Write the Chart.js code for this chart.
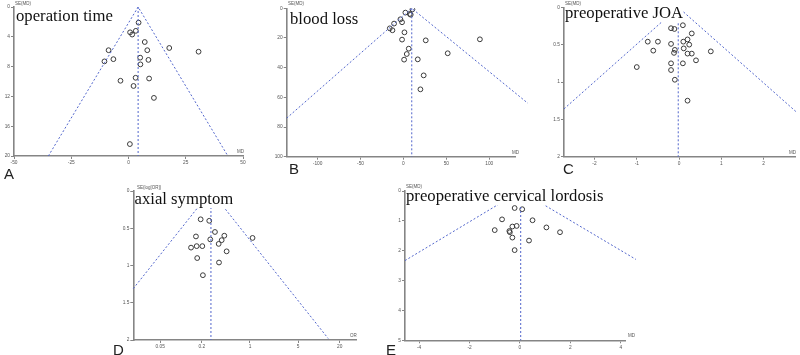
<!DOCTYPE html>
<html>
  <head>
    <title>Funnel plots</title>
    <style>
      body { margin: 0; background: #fff; width: 800px; height: 355px; overflow: hidden; position: relative; }
      canvas { position: absolute; }
      .ttl { position: absolute; font-family: "Liberation Serif", serif; font-size: 16.7px; line-height: 1; background: #fff; color: #111; white-space: nowrap; }
      .let { position: absolute; font-family: "Liberation Sans", sans-serif; font-size: 15px; line-height: 1; color: #222; }
      .ax { position: absolute; font-family: "Liberation Sans", sans-serif; font-size: 4.5px; line-height: 1; color: #555; white-space: nowrap; }
    </style>
    <script src="https://cdn.jsdelivr.net/npm/chart.js"></script>
  </head>
  <body>
    <canvas id="cA" width="258" height="172" style="left:0px;top:0px"></canvas>
    <canvas id="cB" width="270" height="172" style="left:262px;top:0px"></canvas>
    <canvas id="cC" width="264" height="172" style="left:536px;top:0px"></canvas>
    <canvas id="cD" width="270" height="180" style="left:100px;top:175px"></canvas>
    <canvas id="cE" width="270" height="180" style="left:375px;top:175px"></canvas>

    <div class="ttl" style="left:16px;top:8px">operation time</div>
    <div class="ttl" style="left:290px;top:11px">blood loss</div>
    <div class="ttl" style="left:565px;top:5px">preoperative JOA</div>
    <div class="ttl" style="left:134.5px;top:191px">axial symptom</div>
    <div class="ttl" style="left:406px;top:188px">preoperative cervical lordosis</div>

    <div class="let" style="left:4px;top:166px">A</div>
    <div class="let" style="left:289px;top:161px">B</div>
    <div class="let" style="left:563px;top:161px">C</div>
    <div class="let" style="left:113px;top:342px">D</div>
    <div class="let" style="left:386px;top:342px">E</div>

    <div class="ax" style="left:15px;top:2px">SE(MD)</div>
    <div class="ax" style="left:288px;top:2px">SE(MD)</div>
    <div class="ax" style="left:565px;top:2px">SE(MD)</div>
    <div class="ax" style="left:137px;top:186px">SE(log[OR])</div>
    <div class="ax" style="left:406px;top:185px">SE(MD)</div>
    <div class="ax" style="left:237px;top:150px">MD</div>
    <div class="ax" style="left:512px;top:151px">MD</div>
    <div class="ax" style="left:789px;top:151px">MD</div>
    <div class="ax" style="left:350px;top:334px">OR</div>
    <div class="ax" style="left:628px;top:334px">MD</div>

    <script>
      // A: operation time
      const aMD = [4.4, 0.7, 3.2, 1.6, 7.1, -8.7, 8.2, 17.8, 30.6, -10.5, -6.6, 5.1, 8.7, 5.2, -3.5, 3.1, 9.0, 2.2, 11.1, 0.6];
      const aSE = [2.1, 3.4, 3.2, 3.7, 4.7, 5.8, 5.8, 5.5, 6.0, 7.3, 7.0, 6.8, 7.1, 7.7, 9.9, 9.5, 9.6, 10.6, 12.2, 18.4];
      const aFunnelMD = [-35, 4.2, 43.4];
      const aFunnelSE = [20, 0, 20];
      const aPooled = 4.2;
      const aXTicks = [-50, -25, 0, 25, 50];
      const aYTicks = [0, 4, 8, 12, 16, 20];

      // B: blood loss
      const bMD = [10.5, 2.3, 7.4, 8.5, -3.5, -1.6, -10.9, -15.9, -12.8, 1.2, -1.6, 26, 89.1, 6.2, 3.9, 51.6, 0.8, 16.7, 23.6, 19.8];
      const bSE = [0.7, 2.9, 3.8, 4.3, 7.4, 9.4, 10.3, 13.5, 14.8, 16.2, 21.1, 21.6, 20.9, 27.2, 30.8, 30.3, 34.6, 34.4, 45.2, 54.6];
      const bFunnelMD = [-136, 9.7, 145];
      const bFunnelSE = [74, 0, 64];
      const bPooled = 9.7;
      const bXTicks = [-100, -50, 0, 50, 100];
      const bYTicks = [0, 20, 40, 60, 80, 100];

      // C: preoperative JOA
      const cMD = [0.09, -0.19, -0.11, 0.30, -0.74, -0.50, 0.10, 0.20, -0.19, 0.24, 0.11, -0.61, -0.10, -0.12, 0.20, 0.30, 0.75, 0.40, -0.19, 0.09, -1.0, -0.19, -0.10, 0.20];
      const cSE = [0.24, 0.28, 0.29, 0.35, 0.46, 0.46, 0.46, 0.43, 0.49, 0.50, 0.55, 0.58, 0.57, 0.61, 0.62, 0.62, 0.59, 0.71, 0.75, 0.75, 0.80, 0.84, 0.97, 1.25];
      const cFunnelMD = [-2.72, -0.02, 2.77];
      const cFunnelSE = [1.36, 0, 1.40];
      const cPooled = -0.02;
      const cXTicks = [-2, -1, 0, 1, 2];
      const cYTicks = [0, 0.5, 1, 1.5, 2];

      // D: axial symptom (odds ratio, log axis)
      const dOR = [0.193, 0.257, 0.311, 0.425, 0.165, 0.266, 0.389, 1.09, 0.352, 0.140, 0.169, 0.204, 0.459, 0.172, 0.356, 0.208];
      const dSE = [0.38, 0.40, 0.55, 0.60, 0.61, 0.65, 0.66, 0.63, 0.71, 0.76, 0.74, 0.74, 0.81, 0.90, 0.96, 1.13];
      const dFunnelOR = [0.0204, 0.272, 13.6];
      const dFunnelSE = [1.31, 0, 1.98];
      const dPooled = 0.272;
      const dXTicks = [0.05, 0.2, 1, 5, 20];
      const dYTicks = [0, 0.5, 1, 1.5, 2];

      // E: preoperative cervical lordosis
      const eMD = [-0.21, 0.09, -0.71, 0.50, -0.30, -0.13, 1.05, -1.00, -0.42, -0.40, 1.59, -0.30, 0.36, -0.21];
      const eSE = [0.57, 0.61, 0.95, 0.98, 1.19, 1.17, 1.22, 1.31, 1.34, 1.38, 1.38, 1.56, 1.66, 1.98];
      const eFunnelMD = [-4.56, 0.03, 4.6];
      const eFunnelSE = [2.33, 0, 2.29];
      const ePooled = 0.03;
      const eXTicks = [-4, -2, 0, 2, 4];
      const eYTicks = [0, 1, 2, 3, 4, 5];

      const BLUE = '#5266cc';
      const AXIS = '#858585';

      function makePanel(id, o) {
        const pts = o.x.map((v, i) => ({ x: v, y: o.se[i] }));
        const funnel = o.fx.map((v, i) => ({ x: v, y: o.fse[i] }));
        const yMax = o.yTicks[o.yTicks.length - 1];
        const mid = [{ x: o.pooled, y: 0 }, { x: o.pooled, y: yMax }];
        const lineStyle = { showLine: true, borderColor: BLUE, borderWidth: 1, borderDash: [2, 2], pointRadius: 0, clip: false };
        const tickFont = { family: 'Liberation Sans', size: 4.8 };

        new Chart(document.getElementById(id), {
          type: 'scatter',
          data: {
            datasets: [
              Object.assign({ data: funnel }, lineStyle),
              Object.assign({ data: mid }, lineStyle),
              {
                data: pts,
                pointRadius: 2.4,
                pointBorderWidth: 1,
                pointBorderColor: '#3a3a3a',
                pointBackgroundColor: 'rgba(255,255,255,0)'
              }
            ]
          },
          options: {
            responsive: false,
            animation: false,
            events: [],
            layout: { padding: { left: 0, top: o.padTop, right: o.padRight, bottom: 0 } },
            plugins: { legend: { display: false }, tooltip: { enabled: false } },
            scales: {
              x: {
                type: o.log ? 'logarithmic' : 'linear',
                min: o.xMin,
                max: o.xMax,
                afterBuildTicks: s => { s.ticks = o.xTicks.map(v => ({ value: v })); },
                afterFit: s => { s.height = o.xh; },
                ticks: { font: tickFont, color: '#555', padding: 1, maxRotation: 0, autoSkip: false, callback: v => String(v) },
                grid: { drawOnChartArea: false, tickLength: 3, color: AXIS },
                border: { color: AXIS, width: 1.6 }
              },
              y: {
                reverse: true,
                min: 0,
                max: yMax,
                afterBuildTicks: s => { s.ticks = o.yTicks.map(v => ({ value: v })); },
                afterFit: s => { s.width = o.yw; },
                ticks: { font: tickFont, color: '#555', padding: 1, autoSkip: false, callback: v => String(v) },
                grid: { drawOnChartArea: false, tickLength: 3, color: AXIS },
                border: { color: AXIS, width: 1.6 }
              }
            }
          }
        });
      }

      makePanel('cA', { x: aMD, se: aSE, fx: aFunnelMD, fse: aFunnelSE, pooled: aPooled, xTicks: aXTicks, yTicks: aYTicks,
        xMin: -50, xMax: 50, yw: 14, xh: 16, padTop: 7, padRight: 15 });
      makePanel('cB', { x: bMD, se: bSE, fx: bFunnelMD, fse: bFunnelSE, pooled: bPooled, xTicks: bXTicks, yTicks: bYTicks,
        xMin: -136, xMax: 130, yw: 24.7, xh: 15.3, padTop: 8.3, padRight: 17 });
      makePanel('cC', { x: cMD, se: cSE, fx: cFunnelMD, fse: cFunnelSE, pooled: cPooled, xTicks: cXTicks, yTicks: cYTicks,
        xMin: -2.72, xMax: 2.74, yw: 28, xh: 15.3, padTop: 7.3, padRight: 2 });
      makePanel('cD', { x: dOR, se: dSE, fx: dFunnelOR, fse: dFunnelSE, pooled: dPooled, xTicks: dXTicks, yTicks: dYTicks,
        log: true, xMin: 0.0204, xMax: 35.2, yw: 33.3, xh: 15, padTop: 16, padRight: 13.3 });
      makePanel('cE', { x: eMD, se: eSE, fx: eFunnelMD, fse: eFunnelSE, pooled: ePooled, xTicks: eXTicks, yTicks: eYTicks,
        xMin: -4.56, xMax: 4.2, yw: 30, xh: 14.7, padTop: 16, padRight: 19.2 });
    </script>
  </body>
</html>
